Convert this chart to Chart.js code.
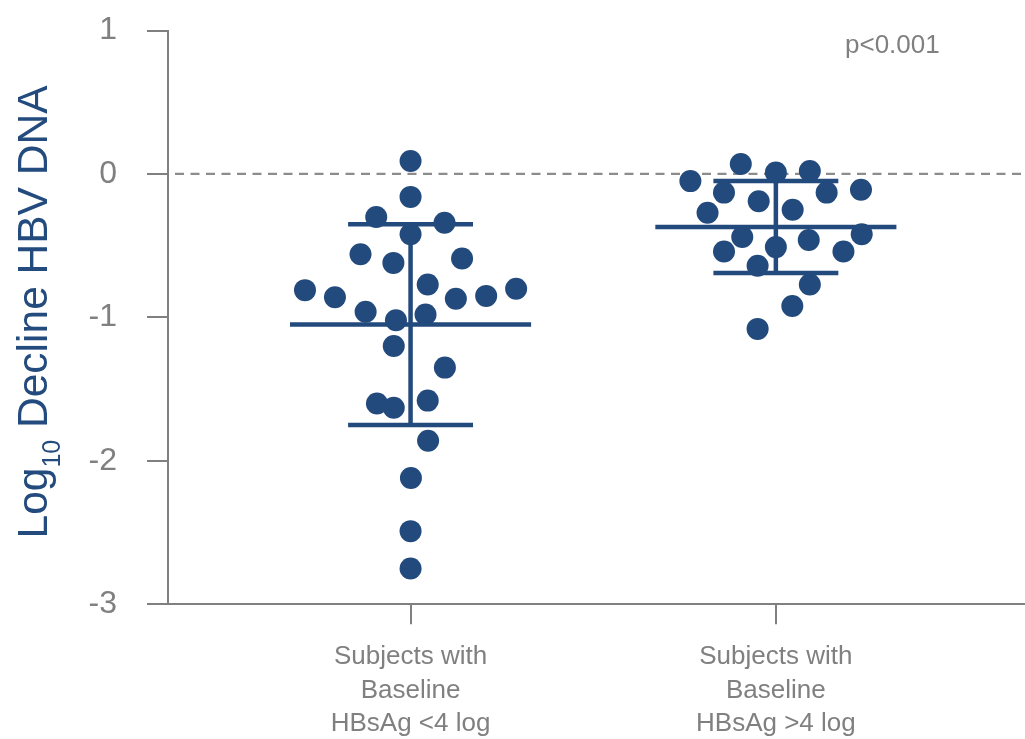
<!DOCTYPE html>
<html>
<head>
<meta charset="utf-8">
<script src="https://cdn.jsdelivr.net/npm/chart.js@4.4.0/dist/chart.umd.min.js"></script>
<style>
  html, body { margin: 0; padding: 0; background: #ffffff; }
  #wrap { width: 1025px; height: 739px; }
</style>
</head>
<body>
<div id="wrap"><canvas id="c" width="1025" height="739"></canvas></div>
<script>
// Group labels (one line per array entry)
const categories = [
  ['Subjects with', 'Baseline', 'HBsAg <4 log'],
  ['Subjects with', 'Baseline', 'HBsAg >4 log']
];
const yTicks = [1, 0, -1, -2, -3];

// Baseline HBsAg <4 log: horizontal position (group index + spread) and log10 decline
const lowX = [1.000, 1.000, 0.906, 1.093, 1.000, 0.863, 0.953, 1.141, 1.047, 0.711, 0.793, 0.877, 0.960,
              1.041, 1.124, 1.207, 1.289, 0.954, 1.094, 0.908, 0.954, 1.047, 1.048, 1.001, 1.000, 1.000];
const lowY = [0.09, -0.16, -0.30, -0.34, -0.42, -0.56, -0.62, -0.59, -0.77, -0.81, -0.86, -0.96, -1.02,
              -0.98, -0.87, -0.85, -0.80, -1.20, -1.35, -1.60, -1.63, -1.58, -1.86, -2.12, -2.49, -2.75];

// Baseline HBsAg >4 log
const highX = [1.766, 1.904, 2.000, 2.093, 1.858, 1.953, 2.139, 2.233, 1.813, 2.046,
               1.908, 2.000, 2.090, 2.235, 1.858, 2.185, 1.950, 2.093, 2.045, 1.950];
const highY = [-0.05, 0.07, 0.01, 0.02, -0.13, -0.19, -0.13, -0.11, -0.27, -0.25,
               -0.44, -0.51, -0.46, -0.42, -0.54, -0.54, -0.64, -0.77, -0.92, -1.08];

// Mean and standard deviation per group
const groupMeans = [-1.05, -0.37];
const groupSDs = [0.70, 0.32];

const pLabel = 'p<0.001';
const titleMain = 'Log';
const titleSub = '10';
const titleRest = ' Decline HBV DNA';

const DOT = '#234a7c';
const GREY = '#808080';
const FONT = '"Liberation Sans", Arial, Helvetica, sans-serif';

const toPoints = (xs, ys) => xs.map((x, i) => ({ x: x, y: ys[i] }));

// dashed reference line at zero, beneath the dots
const zeroLine = {
  id: 'zeroLine',
  beforeDatasetsDraw(chart) {
    const { ctx, chartArea, scales } = chart;
    const y = scales.y.getPixelForValue(0);
    ctx.save();
    ctx.strokeStyle = '#8c8c8c';
    ctx.lineWidth = 2.2;
    ctx.setLineDash([9, 6.5]);
    ctx.beginPath();
    ctx.moveTo(chartArea.left + 7, y);
    ctx.lineTo(chartArea.right, y);
    ctx.stroke();
    ctx.restore();
  }
};

// mean line with +/- SD whiskers for each group
const summaryBars = {
  id: 'summaryBars',
  afterDatasetsDraw(chart) {
    const { ctx, scales } = chart;
    const xs = scales.x, ys = scales.y;
    ctx.save();
    ctx.strokeStyle = DOT;
    ctx.lineWidth = 4.5;
    ctx.lineCap = 'butt';
    groupMeans.forEach((m, i) => {
      const c = i + 1;
      const sd = groupSDs[i];
      const yM = ys.getPixelForValue(m);
      const yU = ys.getPixelForValue(m + sd);
      const yL = ys.getPixelForValue(m - sd);
      const xC = xs.getPixelForValue(c);
      ctx.beginPath();
      ctx.moveTo(xs.getPixelForValue(c - 0.33), yM);
      ctx.lineTo(xs.getPixelForValue(c + 0.33), yM);
      ctx.moveTo(xs.getPixelForValue(c - 0.171), yU);
      ctx.lineTo(xs.getPixelForValue(c + 0.171), yU);
      ctx.moveTo(xs.getPixelForValue(c - 0.171), yL);
      ctx.lineTo(xs.getPixelForValue(c + 0.171), yL);
      ctx.moveTo(xC, yU);
      ctx.lineTo(xC, yL);
      ctx.stroke();
    });
    ctx.restore();
  }
};

// y-axis title with subscript, and the p-value note
const annotations = {
  id: 'annotations',
  afterDraw(chart) {
    const { ctx, chartArea } = chart;
    ctx.save();
    const mainFont = '42.5px ' + FONT;
    const subFont = '25px ' + FONT;
    ctx.font = mainFont;
    const w1 = ctx.measureText(titleMain).width;
    const w3 = ctx.measureText(titleRest).width;
    ctx.font = subFont;
    const w2 = ctx.measureText(titleSub).width;
    const total = w1 + w2 + w3;
    ctx.translate(46.5, 312);
    ctx.rotate(-Math.PI / 2);
    ctx.fillStyle = '#244b7d';
    ctx.textBaseline = 'alphabetic';
    ctx.textAlign = 'left';
    let x = -total / 2;
    ctx.font = mainFont;
    ctx.fillText(titleMain, x, 0);
    x += w1;
    ctx.font = subFont;
    ctx.fillText(titleSub, x, 13);
    x += w2;
    ctx.font = mainFont;
    ctx.fillText(titleRest, x, 0);
    ctx.restore();

    ctx.save();
    ctx.fillStyle = GREY;
    ctx.font = '26px ' + FONT;
    ctx.textAlign = 'left';
    ctx.textBaseline = 'alphabetic';
    ctx.fillText(pLabel, chartArea.left + 677, chartArea.top + 22);
    ctx.restore();
  }
};

// drop the label-overhang padding so the plot fills the frame
const noScalePadding = (scale) => {
  scale.paddingTop = 0;
  scale.paddingBottom = 0;
  scale.paddingLeft = 0;
  scale.paddingRight = 0;
};

new Chart(document.getElementById('c'), {
  type: 'scatter',
  data: {
    datasets: [
      { label: 'HBsAg <4 log', data: toPoints(lowX, lowY) },
      { label: 'HBsAg >4 log', data: toPoints(highX, highY) }
    ]
  },
  options: {
    responsive: false,
    devicePixelRatio: 1,
    animation: false,
    layout: { autoPadding: false, padding: { top: 30.5, right: 0, bottom: 0, left: 0 } },
    elements: {
      point: { radius: 11, hoverRadius: 11, backgroundColor: DOT, borderWidth: 0 }
    },
    plugins: {
      legend: { display: false },
      tooltip: { enabled: false },
      title: { display: false }
    },
    scales: {
      x: {
        type: 'linear',
        min: 0.336,
        max: 2.682,
        afterBuildTicks(scale) {
          scale.ticks = categories.map((_, i) => ({ value: i + 1 }));
        },
        afterFit(scale) { scale.height = 134.7; noScalePadding(scale); },
        ticks: {
          callback: (v) => categories[Math.round(v) - 1],
          color: GREY,
          font: { family: FONT, size: 26, lineHeight: 1.3 },
          padding: 15.5,
          maxRotation: 0,
          autoSkip: false
        },
        grid: { drawOnChartArea: false, drawTicks: true, tickLength: 20, color: GREY, lineWidth: 2 },
        border: { display: true, color: GREY, width: 2 }
      },
      y: {
        type: 'linear',
        min: -3,
        max: 1,
        afterBuildTicks(scale) {
          scale.ticks = yTicks.map(v => ({ value: v }));
        },
        afterFit(scale) { scale.width = 168; noScalePadding(scale); },
        ticks: {
          callback: (v) => String(v),
          color: GREY,
          font: { family: FONT, size: 32 },
          padding: 30
        },
        grid: { drawOnChartArea: false, drawTicks: true, tickLength: 21, color: GREY, lineWidth: 2 },
        border: { display: true, color: GREY, width: 2 }
      }
    }
  },
  plugins: [zeroLine, summaryBars, annotations]
});
</script>
</body>
</html>
